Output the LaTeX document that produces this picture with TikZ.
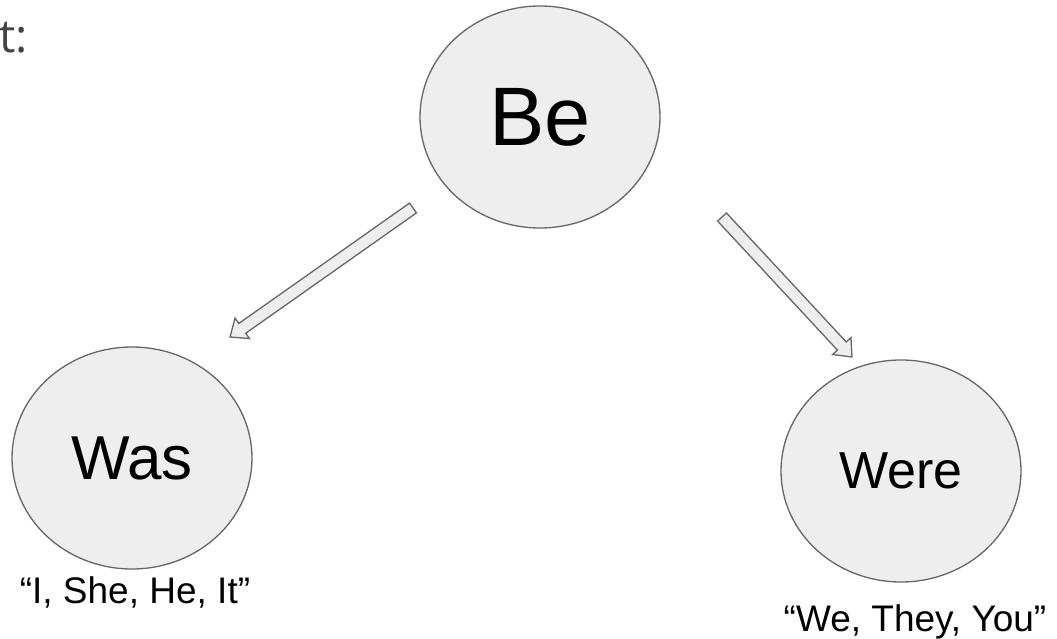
\documentclass[tikz,border=0pt]{standalone}
\usepackage{fontspec}
\setmainfont{Liberation Sans}
\newfontfamily\tfont{Open Sans}
\usetikzlibrary{shapes.geometric,calc}
\definecolor{fillg}{HTML}{EEEEEE}
\definecolor{lineg}{HTML}{666666}
\definecolor{textg}{HTML}{434343}
\newcommand{\barrow}[2]{%
  \coordinate (B) at ($(#2)!15pt!(#1)$);
  \draw[blockarrow] ($(#1)!6pt!90:(#2)$) -- ($(B)!6pt!-90:(#1)$) -- ($(B)!12.5pt!-90:(#1)$) -- (#2)
     -- ($(B)!12.5pt!90:(#1)$) -- ($(B)!6pt!90:(#1)$) -- ($(#1)!6pt!-90:(#2)$) -- cycle;}
\begin{document}
\begin{tikzpicture}[x=1pt,y=-1pt,
  bubble/.style={ellipse, draw=lineg, fill=fillg, line width=1.3pt, minimum width=240pt, minimum height=222pt, inner sep=0pt},
  blockarrow/.style={draw=lineg, fill=fillg, line width=1.3pt, line join=miter},
  caption/.style={anchor=base, font=\fontsize{37}{44}\selectfont}]
\useasboundingbox (0,0) rectangle (1057,639);
\node[anchor=base west, text=textg, font=\tfont\fontsize{46}{54}\selectfont] (tt) at (-4,53) {t:};
\node[bubble, font=\fontsize{83}{90}\selectfont] (be) at (540,117) {Be};
\node[bubble, font=\fontsize{62}{70}\selectfont] (was) at (132,458) {Was};
\node[bubble, font=\fontsize{52}{60}\selectfont] (were) at (901,471) {Were};
\node[caption] (wasl) at (135,603) {“I, She, He, It”};
\node[caption] (werel) at (915,631) {“We, They, You”};
\coordinate (t1) at (413,208);
\coordinate (p1) at (230,337);
\coordinate (t2) at (722,217);
\coordinate (p2) at (852,357);
\barrow{t1}{p1}
\barrow{t2}{p2}
\end{tikzpicture}
\end{document}
